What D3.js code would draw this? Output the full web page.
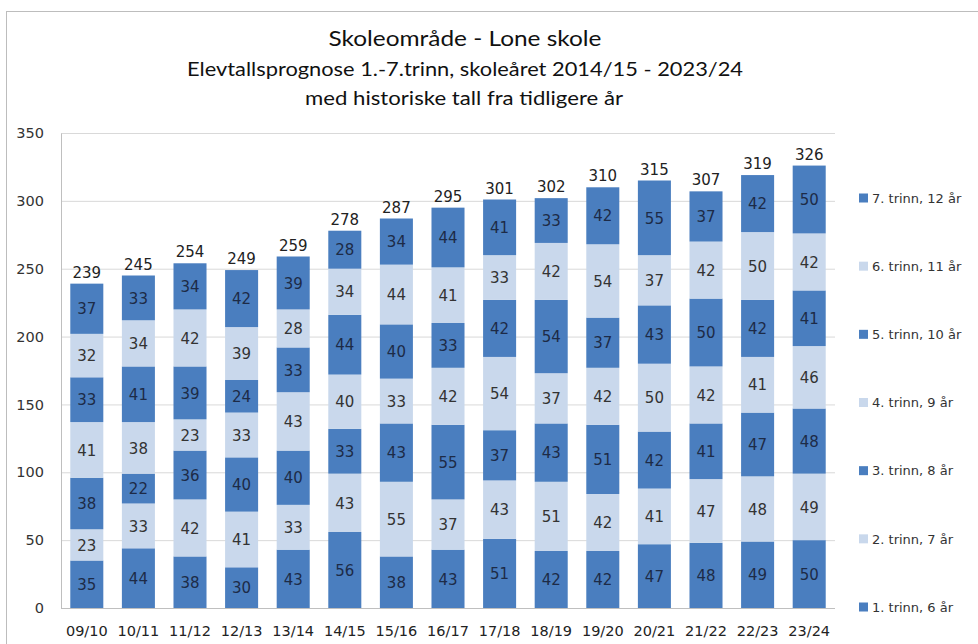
<!DOCTYPE html>
<html><head><meta charset="utf-8">
<script src="https://cdn.jsdelivr.net/npm/d3@7"></script>
<style>body{margin:0;background:#fff;} svg{display:block;font-family:"DejaVu Sans", sans-serif;}</style>
</head><body>
<svg id="c" width="978" height="644"></svg>
<script>
const years = ["09/10","10/11","11/12","12/13","13/14","14/15","15/16","16/17","17/18","18/19","19/20","20/21","21/22","22/23","23/24"];
const seriesNames = ["1. trinn, 6 år","2. trinn, 7 år","3. trinn, 8 år","4. trinn, 9 år","5. trinn, 10 år","6. trinn, 11 år","7. trinn, 12 år"];
const trinn1 = [35,44,38,30,43,56,38,43,51,42,42,47,48,49,50];
const trinn2 = [23,33,42,41,33,43,55,37,43,51,42,41,47,48,49];
const trinn3 = [38,22,36,40,40,33,43,55,37,43,51,42,41,47,48];
const trinn4 = [41,38,23,33,43,40,33,42,54,37,42,50,42,41,46];
const trinn5 = [33,41,39,24,33,44,40,33,42,54,37,43,50,42,41];
const trinn6 = [32,34,42,39,28,34,44,41,33,42,54,37,42,50,42];
const trinn7 = [37,33,34,42,39,28,34,44,41,33,42,55,37,42,50];
const yTicks = [0,50,100,150,200,250,300,350];
const titleLines = ["Skoleområde - Lone skole","Elevtallsprognose 1.-7.trinn, skoleåret 2014/15 - 2023/24","med historiske tall fra tidligere år"];

const seriesVals = [trinn1,trinn2,trinn3,trinn4,trinn5,trinn6,trinn7];
const rows = years.map((y,i)=>{const r={year:y}; seriesNames.forEach((s,k)=>r[s]=seriesVals[k][i]); return r;});
const stack = d3.stack().keys(seriesNames)(rows);
const totals = rows.map(r=>d3.sum(seriesNames,s=>r[s]));

const dark = "#4a7ebf", light = "#c9d8ec";
const color = d3.scaleOrdinal().domain(seriesNames).range([dark,light,dark,light,dark,light,dark]);

const svg = d3.select("#c");
// outer frame
svg.append("rect").attr("x",6.5).attr("y",11.5).attr("width",1000).attr("height",700).attr("fill","none").attr("stroke","#bdbdbd");

const x = d3.scaleBand().domain(years).range([61,835]).paddingInner(0.36).paddingOuter(0.18);
const y = d3.scaleLinear().domain([0,350]).range([608,133]);

// gridlines
svg.append("g").selectAll("line").data(yTicks.slice(1)).join("line")
  .attr("x1",61).attr("x2",835).attr("y1",d=>y(d)+0.5).attr("y2",d=>y(d)+0.5)
  .attr("stroke","#d9d9d9").attr("stroke-width",1);

// y axis
const yAxis = svg.append("g").attr("transform","translate(61,0)")
  .call(d3.axisLeft(y).tickValues(yTicks).tickSize(0).tickPadding(17));
yAxis.select(".domain").attr("stroke","#bfbfbf");
yAxis.selectAll("text").attr("font-size",14.5).attr("fill","#333").attr("font-family","DejaVu Sans, sans-serif");

// x axis
const xAxis = svg.append("g").attr("transform","translate(0,608)")
  .call(d3.axisBottom(x).tickSize(0).tickPadding(18));
xAxis.select(".domain").attr("stroke","#bfbfbf").attr("d","M61,0.5H835");
xAxis.selectAll("text").attr("font-size",14.5).attr("fill","#222").attr("font-family","DejaVu Sans, sans-serif");

// bars
const g = svg.append("g");
stack.forEach(layer=>{
  const isDark = color(layer.key)===dark;
  g.append("g").selectAll("rect").data(layer).join("rect")
    .attr("x",d=>x(d.data.year)).attr("width",x.bandwidth())
    .attr("y",d=>y(d[1])).attr("height",d=>y(d[0])-y(d[1]))
    .attr("fill",color(layer.key));
  g.append("g").selectAll("text").data(layer).join("text")
    .attr("x",d=>x(d.data.year)+x.bandwidth()/2)
    .attr("y",d=>(y(d[0])+y(d[1]))/2)
    .attr("dy","0.38em").attr("text-anchor","middle")
    .attr("font-size",15).attr("fill",isDark?"#1d2b47":"#333")
    .text(d=>d[1]-d[0]);
});
// totals
svg.append("g").selectAll("text").data(rows).join("text")
  .attr("x",d=>x(d.year)+x.bandwidth()/2)
  .attr("y",(d,i)=>y(totals[i])-6)
  .attr("text-anchor","middle").attr("font-size",15).attr("fill","#222")
  .text((d,i)=>totals[i]);

// titles
const tf = "Lato, 'Open Sans', sans-serif";
svg.append("text").attr("x",465).attr("y",46).attr("text-anchor","middle").attr("font-family",tf).attr("font-size",22).attr("fill","#111")
  .attr("textLength",273).attr("lengthAdjust","spacingAndGlyphs").text(titleLines[0]);
svg.append("text").attr("x",465).attr("y",76).attr("text-anchor","middle").attr("font-family",tf).attr("font-size",19.5).attr("fill","#111")
  .attr("textLength",556).attr("lengthAdjust","spacingAndGlyphs").text(titleLines[1]);
svg.append("text").attr("x",464).attr("y",105).attr("text-anchor","middle").attr("font-family",tf).attr("font-size",19.5).attr("fill","#111")
  .attr("textLength",318).attr("lengthAdjust","spacingAndGlyphs").text(titleLines[2]);

// legend
const legY = d3.scalePoint().domain(seriesNames.slice().reverse()).range([198,607]);
const leg = svg.append("g").selectAll("g").data(seriesNames).join("g")
  .attr("transform",d=>`translate(859,${legY(d)})`);
leg.append("rect").attr("x",0).attr("y",-4.5).attr("width",9).attr("height",9).attr("fill",d=>color(d));
leg.append("text").attr("x",13).attr("dy","0.36em").attr("font-size",13).attr("fill","#333").text(d=>d);
</script>
</body></html>
